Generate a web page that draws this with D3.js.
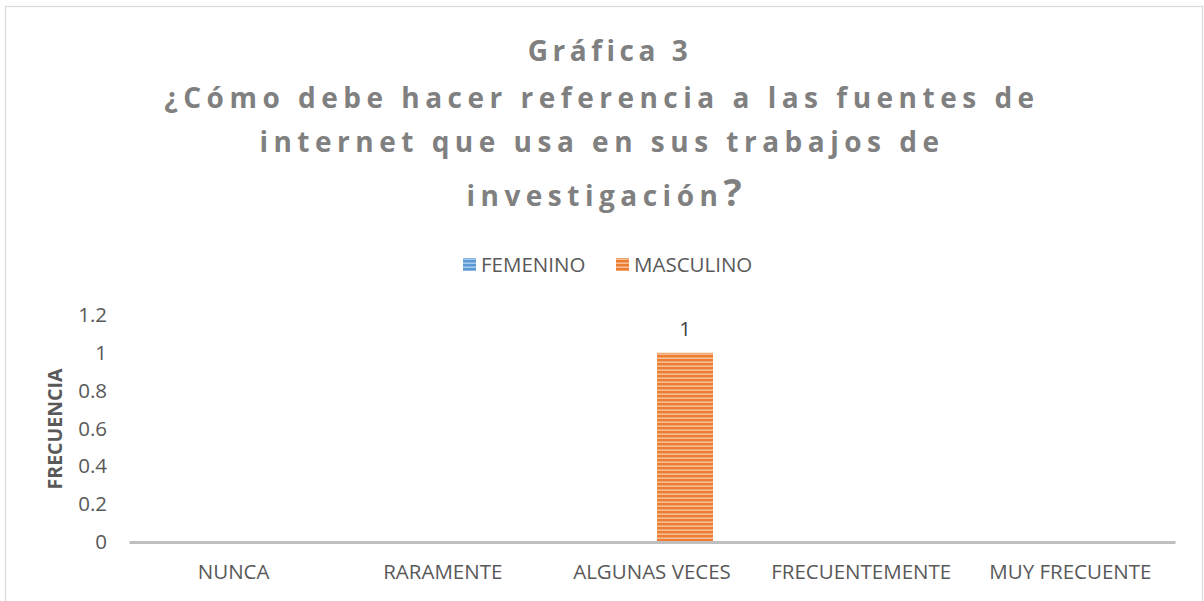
<!DOCTYPE html>
<html>
<head>
<meta charset="utf-8">
<script src="https://cdn.jsdelivr.net/npm/d3@7"></script>
<style>
  body { margin: 0; background: #fff; }
  text { font-family: "Open Sans", "Liberation Sans", sans-serif; }
</style>
</head>
<body>
<div id="chart"></div>
<script>
// chart data
const categories = ["NUNCA", "RARAMENTE", "ALGUNAS VECES", "FRECUENTEMENTE", "MUY FRECUENTE"];
const seriesNames = ["FEMENINO", "MASCULINO"];
const femenino = [null, null, null, null, null];
const masculino = [null, null, 1, null, null];
const yTicks = [0, 0.2, 0.4, 0.6, 0.8, 1, 1.2];
const titleLines = ["Gráfica 3", "¿Cómo debe hacer referencia a las fuentes de", "internet que usa en sus trabajos de", "investigación"];

const svgWidth = 1204;
const svgHeight = 601;
const margin = { top: 315, right: 29, bottom: 59, left: 129 };
const width = svgWidth - margin.left - margin.right;
const height = svgHeight - margin.top - margin.bottom;

const colors = { FEMENINO: "#5B9BD5", MASCULINO: "#ED7D31" };
const light = { FEMENINO: "#A9C9EA", MASCULINO: "#F6BE98" };

const svg = d3.select("#chart")
  .append("svg")
  .attr("width", svgWidth)
  .attr("height", svgHeight);

// striped fills
const defs = svg.append("defs");
seriesNames.forEach(name => {
  const p = defs.append("pattern")
    .attr("id", "stripe-" + name)
    .attr("patternUnits", "userSpaceOnUse")
    .attr("width", 8)
    .attr("height", 4);
  p.append("rect").attr("width", 8).attr("height", 4).attr("fill", light[name]);
  p.append("rect").attr("width", 8).attr("height", 2.4).attr("fill", colors[name]);
});

// chart border
svg.append("rect")
  .attr("x", 5.5).attr("y", 6.5)
  .attr("width", 1197).attr("height", 600)
  .attr("fill", "none")
  .attr("stroke", "#d9d9d9")
  .attr("stroke-width", 1.2);

// title
const titleY = [61, 108, 152, 206];
const titleDx = [8, 0, 0, 2];
titleLines.forEach((t, i) => {
  const txt = svg.append("text")
    .attr("x", 602 + titleDx[i])
    .attr("y", titleY[i])
    .attr("text-anchor", "middle")
    .attr("fill", "#808080")
    .style("font-size", "28px")
    .style("font-weight", "700")
    .style("letter-spacing", i === 0 ? "4.5px" : "5.5px")
    .text(t);
  if (i === 3) {
    txt.append("tspan").style("font-size", "38px").style("letter-spacing", "0px").text("?");
  }
});

// legend
const legend = svg.append("g");
const legendX = [463, 616];
seriesNames.forEach((name, i) => {
  legend.append("rect")
    .attr("x", legendX[i]).attr("y", 258)
    .attr("width", 13).attr("height", 13)
    .attr("fill", "url(#stripe-" + name + ")");
  legend.append("text")
    .attr("x", legendX[i] + 18).attr("y", 272)
    .attr("fill", "#595959")
    .style("font-size", "20.5px")
    .text(name);
});

const chartGroup = svg.append("g")
  .attr("transform", `translate(${margin.left}, ${margin.top})`);

const xScale = d3.scaleBand()
  .domain(categories)
  .range([0, width]);

const xInner = d3.scaleBand()
  .domain(seriesNames)
  .range([0, 112]);

const yScale = d3.scaleLinear()
  .domain([0, 1.2])
  .range([height, 0]);

// y axis labels
const leftAxis = d3.axisLeft(yScale)
  .tickValues(yTicks)
  .tickSize(0)
  .tickPadding(22)
  .tickFormat(d => String(d));

chartGroup.append("g")
  .call(leftAxis)
  .call(g => g.select(".domain").remove())
  .selectAll("text")
  .attr("fill", "#595959")
  .style("font-size", "20.5px")
  .style("font-family", "'Open Sans', sans-serif");

// bars
const series = [femenino, masculino];
seriesNames.forEach((name, s) => {
  const rows = categories.map((c, i) => ({ cat: c, value: series[s][i] })).filter(d => d.value != null);
  const barX = d => xScale(d.cat) + xScale.bandwidth() / 2 - 51 + xInner(name);

  chartGroup.selectAll(".bar-" + name)
    .data(rows)
    .enter()
    .append("rect")
    .attr("x", barX)
    .attr("y", d => yScale(d.value))
    .attr("width", xInner.bandwidth())
    .attr("height", d => height - yScale(d.value))
    .attr("fill", "url(#stripe-" + name + ")");

  chartGroup.selectAll(".label-" + name)
    .data(rows)
    .enter()
    .append("text")
    .attr("x", d => barX(d) + xInner.bandwidth() / 2)
    .attr("y", d => yScale(d.value) - 17)
    .attr("text-anchor", "middle")
    .attr("fill", "#404040")
    .style("font-size", "20.5px")
    .text(d => d.value);
});

// x axis
const bottomAxis = d3.axisBottom(xScale).tickSize(0).tickPadding(22);
chartGroup.append("g")
  .attr("transform", `translate(0, ${height})`)
  .call(bottomAxis)
  .call(g => g.select(".domain").attr("stroke", "#bfbfbf").attr("stroke-width", 3))
  .selectAll("text")
  .attr("fill", "#595959")
  .style("font-size", "20.5px")
  .style("font-family", "'Open Sans', sans-serif");

// y axis title
svg.append("text")
  .attr("transform", "translate(62, 429) rotate(-90)")
  .attr("text-anchor", "middle")
  .attr("fill", "#595959")
  .style("font-size", "19.5px")
  .style("font-weight", "700")
  .text("FRECUENCIA");
</script>
</body>
</html>
